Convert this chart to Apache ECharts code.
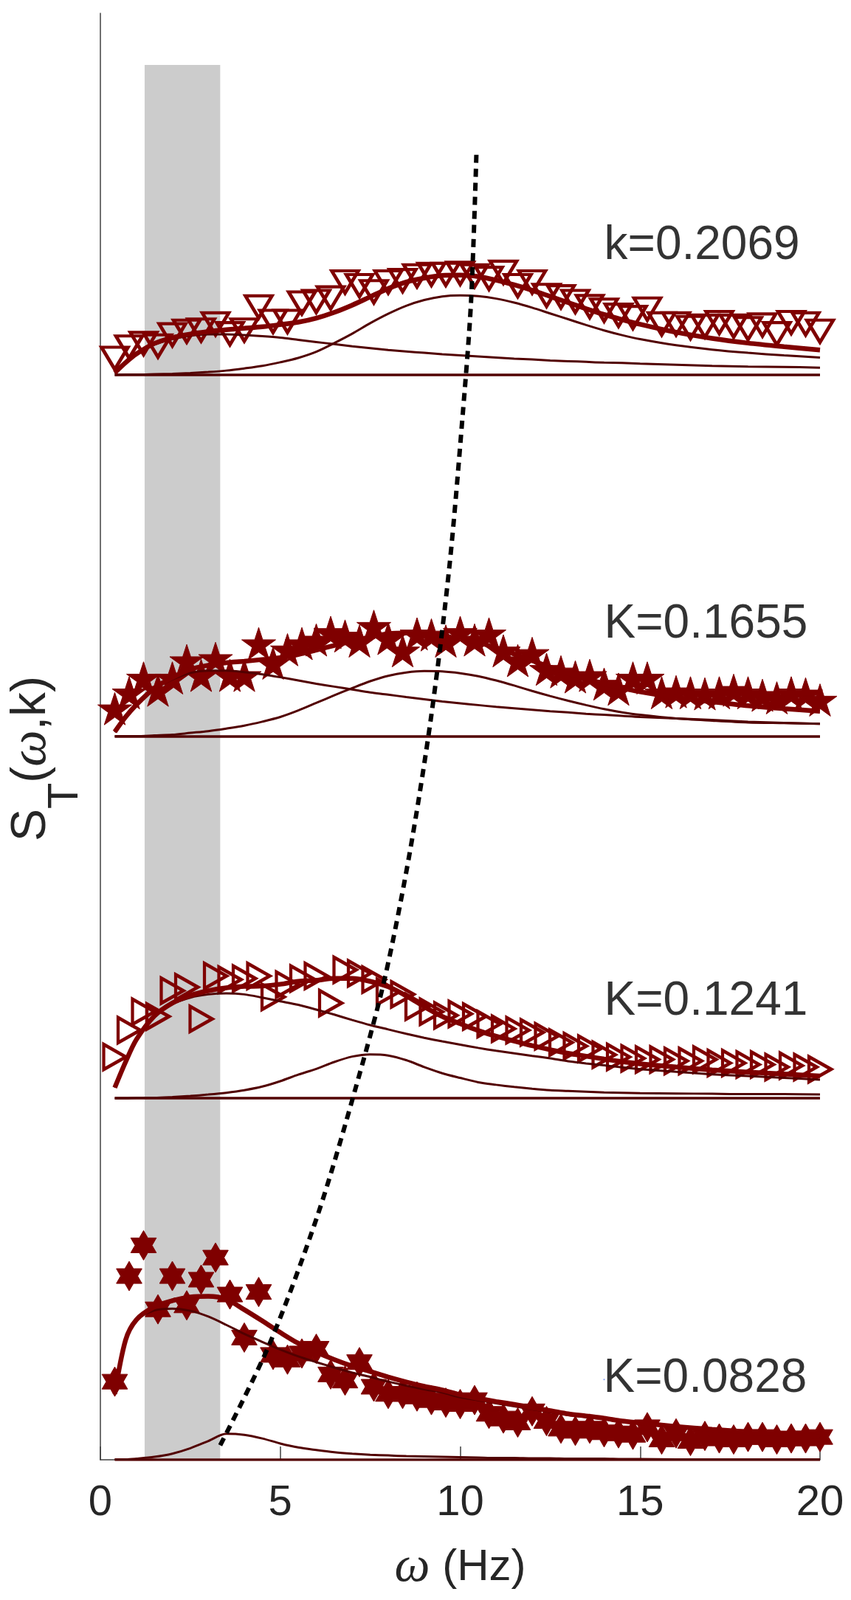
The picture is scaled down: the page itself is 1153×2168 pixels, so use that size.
<!DOCTYPE html>
<html><head><meta charset="utf-8">
<script src="https://cdn.jsdelivr.net/npm/echarts/dist/echarts.min.js"></script>
<style>html,body{margin:0;padding:0;background:#fff}#c{width:1153px;height:2168px}</style>
</head><body><div id="c"></div>
<script>
// ---------- data ----------
const omegaPts = [0.4,0.8,1.2,1.6,2.0,2.4,2.8,3.2,3.6,4.0,4.4,4.8,5.2,5.6,6.0,6.4,6.8,7.2,7.6,8.0,
  8.4,8.8,9.2,9.6,10.0,10.4,10.8,11.2,11.6,12.0,12.4,12.8,13.2,13.6,14.0,14.4,14.8,15.2,15.6,16.0,
  16.4,16.8,17.2,17.6,18.0,18.4,18.8,19.2,19.6,20.0];
const omegaFit = [0.4,0.7,1,1.5,2,2.5,3,3.5,4,4.5,5,5.5,6,6.5,7,7.5,8,8.5,9,9.5,10,10.5,11,11.5,12,12.5,13,13.5,14,14.5,15,16,17,18,19,20];
const panelLabels = ['k=0.2069','K=0.1655','K=0.1241','K=0.0828'];

// k = 0.2069
const pts1 = [0.046,0.077,0.087,0.080,0.111,0.121,0.124,0.141,0.114,0.124,0.188,0.148,0.148,0.199,0.203,0.213,0.257,0.247,0.230,0.257,
  0.261,0.274,0.278,0.278,0.281,0.274,0.267,0.284,0.247,0.257,0.220,0.216,0.203,0.189,0.179,0.165,0.159,0.182,0.141,0.141,
  0.131,0.135,0.145,0.135,0.128,0.138,0.114,0.145,0.141,0.121];
const total1 = [0.006,0.034,0.058,0.087,0.103,0.113,0.120,0.125,0.129,0.133,0.139,0.146,0.157,0.173,0.193,0.216,0.239,0.257,0.268,0.275,
  0.276,0.272,0.262,0.249,0.234,0.217,0.200,0.183,0.167,0.153,0.140,0.118,0.101,0.088,0.078,0.069];
const comp1a = [0.004,0.032,0.056,0.084,0.099,0.108,0.112,0.112,0.110,0.107,0.103,0.097,0.091,0.085,0.079,0.074,0.069,0.065,0.061,0.057,
  0.054,0.051,0.048,0.045,0.043,0.040,0.038,0.036,0.034,0.033,0.031,0.028,0.025,0.023,0.022,0.020];
const comp1b = [0.000,0.001,0.001,0.002,0.003,0.005,0.008,0.012,0.018,0.025,0.035,0.047,0.064,0.088,0.114,0.143,0.169,0.191,0.207,0.217,
  0.220,0.218,0.211,0.200,0.186,0.170,0.154,0.138,0.123,0.110,0.099,0.082,0.070,0.061,0.054,0.048];

// K = 0.1655
const pts2 = [0.077,0.121,0.162,0.128,0.162,0.210,0.169,0.216,0.169,0.169,0.257,0.203,0.240,0.257,0.267,0.288,0.278,0.264,0.305,0.271,
  0.237,0.284,0.281,0.264,0.288,0.267,0.284,0.237,0.210,0.230,0.186,0.179,0.165,0.169,0.145,0.131,0.162,0.162,0.121,0.124,
  0.121,0.118,0.121,0.128,0.121,0.114,0.107,0.121,0.118,0.101];
const total2 = [0.013,0.054,0.088,0.134,0.163,0.186,0.197,0.204,0.208,0.213,0.218,0.227,0.239,0.252,0.264,0.275,0.284,0.286,0.284,0.278,
  0.270,0.260,0.245,0.228,0.210,0.192,0.175,0.160,0.146,0.134,0.124,0.108,0.096,0.085,0.077,0.070];
const comp2a = [0.012,0.053,0.087,0.131,0.158,0.176,0.182,0.182,0.178,0.172,0.164,0.155,0.146,0.138,0.130,0.122,0.116,0.109,0.103,0.097,
  0.092,0.087,0.082,0.078,0.074,0.070,0.067,0.063,0.060,0.057,0.054,0.050,0.046,0.041,0.038,0.035];
const comp2b = [0.001,0.001,0.001,0.003,0.005,0.010,0.015,0.022,0.030,0.041,0.054,0.072,0.093,0.114,0.134,0.153,0.168,0.177,0.181,0.180,
  0.175,0.167,0.155,0.141,0.126,0.112,0.099,0.087,0.076,0.067,0.060,0.050,0.044,0.039,0.037,0.035];

// K = 0.1241
const pts3 = [0.114,0.188,0.239,0.226,0.297,0.307,0.219,0.338,0.328,0.331,0.338,0.280,0.314,0.331,0.338,0.263,0.355,0.345,0.328,0.294,
  0.287,0.253,0.239,0.229,0.233,0.226,0.205,0.192,0.188,0.182,0.171,0.154,0.144,0.137,0.120,0.114,0.110,0.107,0.107,0.103,
  0.103,0.107,0.097,0.097,0.093,0.093,0.086,0.090,0.086,0.080];
const total3 = [0.029,0.100,0.162,0.227,0.263,0.284,0.297,0.305,0.309,0.310,0.315,0.323,0.326,0.331,0.331,0.323,0.308,0.283,0.253,0.226,
  0.206,0.187,0.171,0.158,0.145,0.134,0.124,0.116,0.108,0.101,0.095,0.086,0.078,0.072,0.067,0.061];
const comp3a = [0.029,0.100,0.161,0.226,0.260,0.278,0.287,0.290,0.287,0.278,0.268,0.258,0.245,0.231,0.216,0.202,0.190,0.178,0.167,0.157,
  0.148,0.139,0.131,0.124,0.117,0.110,0.102,0.096,0.091,0.085,0.080,0.073,0.066,0.061,0.056,0.051];
const comp3b = [0.000,0.000,0.001,0.001,0.003,0.006,0.010,0.015,0.022,0.032,0.047,0.065,0.081,0.100,0.115,0.121,0.118,0.105,0.086,0.069,
  0.056,0.044,0.037,0.031,0.026,0.022,0.020,0.018,0.016,0.015,0.014,0.013,0.012,0.011,0.011,0.010];

// K = 0.0828
const pts4 = [0.216,0.508,0.593,0.416,0.508,0.427,0.498,0.559,0.457,0.338,0.464,0.290,0.277,0.294,0.307,0.236,0.219,0.270,0.202,0.182,
  0.182,0.175,0.165,0.158,0.154,0.165,0.127,0.114,0.103,0.134,0.107,0.086,0.080,0.086,0.076,0.073,0.069,0.090,0.056,0.073,
  0.052,0.066,0.059,0.056,0.063,0.063,0.056,0.059,0.059,0.063];
const total4 = [0.182,0.331,0.387,0.423,0.440,0.450,0.452,0.444,0.415,0.384,0.352,0.322,0.298,0.277,0.259,0.244,0.229,0.215,0.203,0.193,
  0.180,0.170,0.161,0.153,0.144,0.136,0.127,0.121,0.115,0.107,0.102,0.092,0.084,0.077,0.070,0.064];
const comp4a = [0.182,0.331,0.386,0.413,0.418,0.412,0.396,0.373,0.348,0.326,0.305,0.286,0.270,0.255,0.241,0.229,0.216,0.205,0.195,0.186,
  0.173,0.165,0.156,0.148,0.140,0.132,0.124,0.118,0.112,0.105,0.100,0.091,0.083,0.076,0.069,0.063];
const comp4b = [0.001,0.001,0.003,0.008,0.017,0.032,0.052,0.072,0.069,0.059,0.045,0.034,0.027,0.021,0.017,0.014,0.012,0.010,0.009,0.008,
  0.007,0.006,0.005,0.005,0.004,0.004,0.003,0.003,0.003,0.002,0.002,0.001,0.001,0.001,0.001,0.001];

// dotted dispersion curve (omega, stacked level)
const dispOmega = [3.33,4.7,6.05,7.1,7.9,8.6,9.2,9.7,10.07,10.3,10.45];
const dispLevel = [0.04,0.32,0.68,1.03,1.33,1.68,2.06,2.47,2.89,3.2,3.61];

// shaded frequency band
const bandRange = [1.23, 3.33];
const bandTop = 3.857;

// x axis ticks
const xMin = 0, xMax = 20, xStep = 5;

// ---------- layout / style ----------
const panelOffset = [3, 2, 1, 0];
const labelX = 14.0;
const labelDy = [0.357, 0.310, 0.267, 0.222];
const MARK = '#7f0000', THIN = '#520000';
const PENTA = 'path://M0,-1L0.2245,-0.309L0.951,-0.309L0.363,0.118L0.588,0.809L0,0.382L-0.588,0.809L-0.363,0.118L-0.951,-0.309L-0.2245,-0.309Z';
const HEXA = 'path://M0,-1L0.2887,-0.5L0.866,-0.5L0.577,0L0.866,0.5L0.2887,0.5L0,1L-0.2887,0.5L-0.866,0.5L-0.577,0L-0.866,-0.5L-0.2887,-0.5Z';

const panels = [
  {pts: pts1, total: total1, a: comp1a, b: comp1b, symbol: 'triangle', rotate: 180, size: [36, 30], hollow: true},
  {pts: pts2, total: total2, a: comp2a, b: comp2b, symbol: PENTA, rotate: 0, size: 46, hollow: false},
  {pts: pts3, total: total3, a: comp3a, b: comp3b, symbol: 'triangle', rotate: -90, size: [34, 30], hollow: true},
  {pts: pts4, total: total4, a: comp4a, b: comp4b, symbol: HEXA, rotate: 0, size: 40, hollow: false}
];

const series = [];
series.push({
  type: 'line', data: [[bandRange[0], 0]], showSymbol: false, symbolSize: 0, lineStyle: {opacity: 0}, z: 0, silent: true,
  markArea: {silent: true, itemStyle: {color: '#cccccc', opacity: 1},
    data: [[{coord: [bandRange[0], 0]}, {coord: [bandRange[1], bandTop]}]]}
});

panels.forEach((p, i) => {
  const off = panelOffset[i];
  series.push({
    type: 'scatter', z: 3,
    data: p.pts.map((v, j) => [omegaPts[j], v + off]),
    symbol: p.symbol, symbolRotate: p.rotate, symbolSize: p.size, symbolKeepAspect: true,
    itemStyle: p.hollow ? {color: 'rgba(0,0,0,0)', borderColor: MARK, borderWidth: 4.5, opacity: 1}
                        : {color: MARK, borderColor: MARK, borderWidth: 1, opacity: 1}
  });
  series.push({type: 'line', z: 4, showSymbol: false,
    data: [[omegaFit[0], off], [omegaFit[omegaFit.length - 1], off]],
    lineStyle: {color: THIN, width: 3.5}});
  [p.a, p.b].forEach(c => series.push({type: 'line', z: 4, showSymbol: false, smooth: 0.3,
    data: c.map((v, j) => [omegaFit[j], v + off]), lineStyle: {color: THIN, width: 3}}));
  series.push({type: 'line', z: 5, showSymbol: false, smooth: 0.3,
    data: p.total.map((v, j) => [omegaFit[j], v + off]), lineStyle: {color: MARK, width: 6.5}});
});

series.push({type: 'line', z: 6, showSymbol: false, smooth: 0.3,
  data: dispOmega.map((w, j) => [w, dispLevel[j]]),
  lineStyle: {color: '#000', width: 6, type: [11, 8]}});

series.push({type: 'scatter', z: 7, symbolSize: 0,
  data: panelLabels.map((t, i) => ({name: t, value: [labelX, panelOffset[i] + labelDy[i]]})),
  label: {show: true, position: [0, 0], align: 'left', verticalAlign: 'middle', formatter: '{b}',
    fontSize: 64, fontFamily: 'Liberation Sans', color: '#000'}});

const chart = echarts.init(document.getElementById('c'), null, {renderer: 'canvas'});
chart.setOption({
  animation: false,
  backgroundColor: '#fff',
  grid: {left: 130, right: 42, top: 18, bottom: 190, containLabel: false},
  xAxis: {
    type: 'value', min: xMin, max: xMax, interval: xStep,
    axisLine: {show: true, onZero: false, lineStyle: {color: '#404040', width: 1.5}},
    axisTick: {show: true, inside: true, length: 18, lineStyle: {color: '#404040', width: 1.5}},
    axisLabel: {fontSize: 58, fontFamily: 'Liberation Sans', color: '#262626', margin: 30},
    splitLine: {show: false},
    name: '{w|ω}{t| (Hz)}', nameLocation: 'middle', nameGap: 112,
    nameTextStyle: {rich: {
      w: {fontSize: 68, fontFamily: 'Liberation Serif', fontStyle: 'italic', color: '#262626'},
      t: {fontSize: 60, fontFamily: 'Liberation Sans', color: '#262626'}}}
  },
  yAxis: {
    type: 'value', min: 0, max: 4,
    axisLine: {show: true, lineStyle: {color: '#404040', width: 1.5}},
    axisTick: {show: false}, axisLabel: {show: false}, splitLine: {show: false},
    name: '{s|S}{t|T}{p|(}{w|ω}{p|,k)}', nameLocation: 'middle', nameRotate: 90, nameGap: 18,
    nameTextStyle: {padding: [0, 60, 0, 0], rich: {
      s: {fontSize: 66, fontFamily: 'Liberation Sans', color: '#262626', lineHeight: 150, verticalAlign: 'middle'},
      t: {fontSize: 58, fontFamily: 'Liberation Sans', color: '#262626', lineHeight: 58, verticalAlign: 'bottom'},
      p: {fontSize: 66, fontFamily: 'Liberation Sans', color: '#262626', lineHeight: 66, verticalAlign: 'middle'},
      w: {fontSize: 70, fontFamily: 'Liberation Serif', fontStyle: 'italic', color: '#262626', lineHeight: 66, verticalAlign: 'middle'}}}
  },
  series: series
});
</script>
</body></html>
